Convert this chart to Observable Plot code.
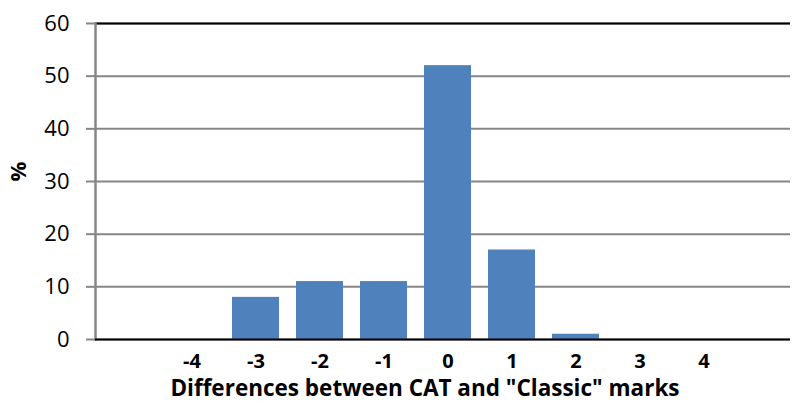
<!DOCTYPE html>
<html>
<head>
<meta charset="utf-8">
<script src="https://cdn.jsdelivr.net/npm/d3@7"></script>
<script src="https://cdn.jsdelivr.net/npm/@observablehq/plot@0.6"></script>
<style>
  html, body { margin: 0; padding: 0; background: #fff; }
</style>
</head>
<body>
<div id="chart"></div>
<script>
const differences = [-4, -3, -2, -1, 0, 1, 2, 3, 4];
const percents = [0, 8, 11, 11, 52, 17, 1, 0, 0];
const yTicks = [0, 10, 20, 30, 40, 50, 60];
const xTitle = 'Differences between CAT and "Classic" marks';
const yTitle = "%";

const data = differences.map((d, i) => ({d, p: percents[i]}));
const font = "'Open Sans', sans-serif";

const chart = Plot.plot({
  width: 795,
  height: 410,
  marginLeft: 95,
  marginRight: 5,
  marginTop: 23,
  marginBottom: 71,
  style: {fontFamily: font, color: "#000", background: "#fff"},
  x: {type: "band", domain: differences, range: [167.5, 728], paddingInner: 0.268, paddingOuter: 0},
  y: {domain: [0, 60]},
  marks: [
    Plot.gridY(yTicks, {stroke: "#868686", strokeOpacity: 1, strokeWidth: 2}),
    Plot.ruleY([60], {stroke: "#000", strokeWidth: 2}),
    Plot.barY(data, {x: "d", y: "p", fill: "#4f81bd"}),
    Plot.frame({anchor: "left", stroke: "#868686", strokeWidth: 2.5}),
    Plot.ruleY([0], {stroke: "#000", strokeWidth: 2}),
    Plot.axisY(yTicks, {tickSize: 9, tickPadding: 17, stroke: "#868686", strokeWidth: 2, fontSize: 22, label: null}),
    Plot.axisX({tickSize: 0, tickPadding: 14, fontSize: 20, fontWeight: "bold", label: null}),
    Plot.text([yTitle], {frameAnchor: "left", dx: -77, rotate: -90, fontSize: 22, fontWeight: "bold"}),
    Plot.text([xTitle], {frameAnchor: "bottom", dy: 56, dx: -18, fontSize: 22.5, fontWeight: "bold"})
  ]
});
document.getElementById("chart").appendChild(chart);
</script>
</body>
</html>
